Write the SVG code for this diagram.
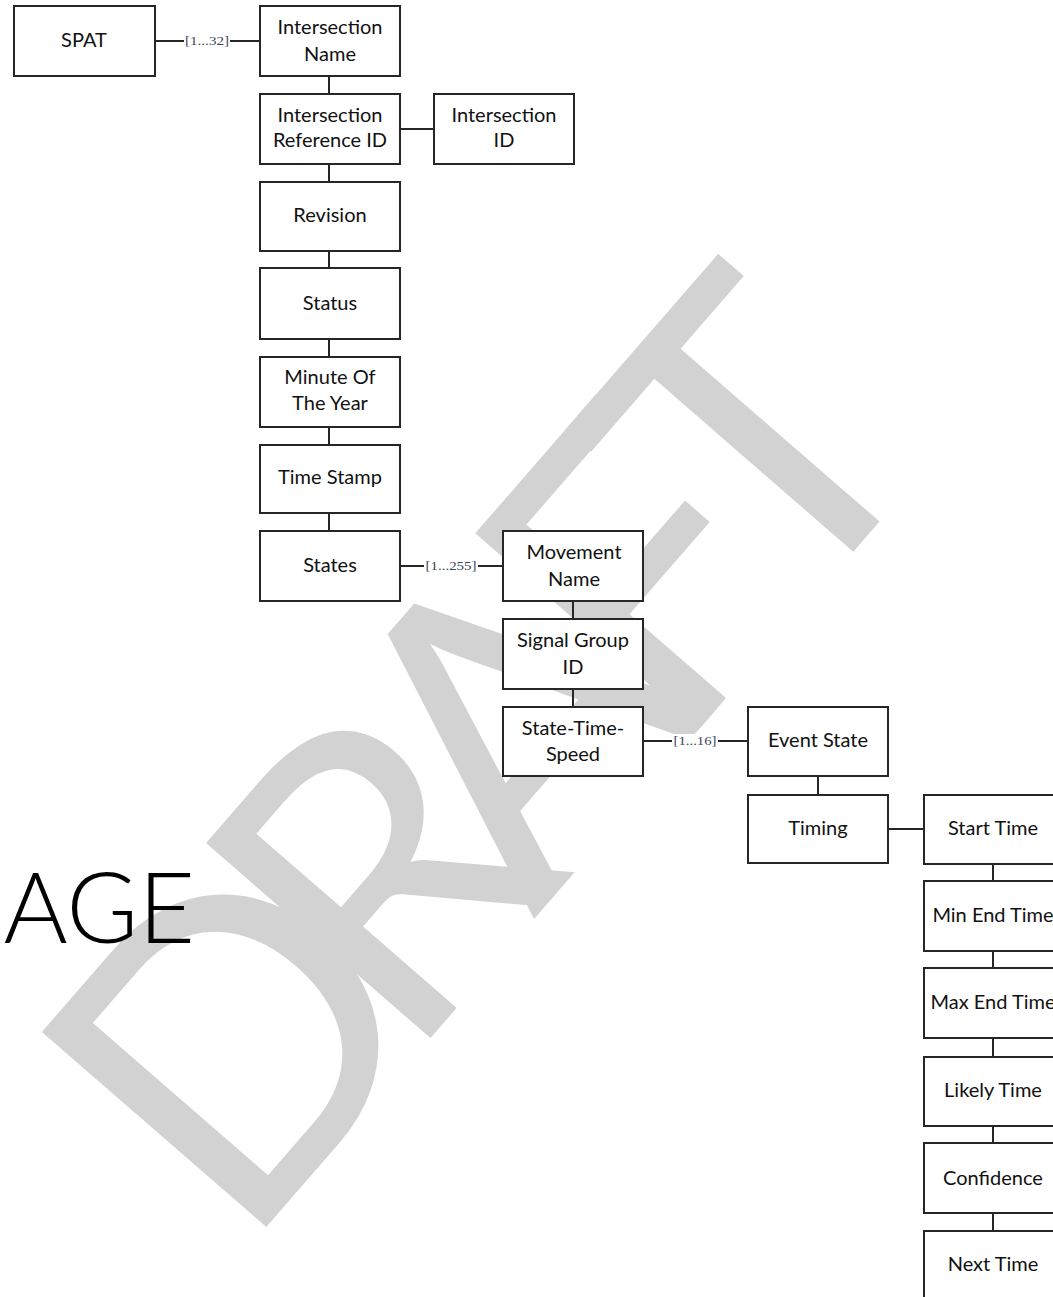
<svg xmlns="http://www.w3.org/2000/svg" width="1053" height="1297" viewBox="0 0 1053 1297">
<style>
.bg{fill:#ffffff}
.wm{font-family:Lato,"Open Sans","DejaVu Sans",sans-serif;font-weight:400;fill:#d2d2d2}
.age{font-family:Lato,"Open Sans","DejaVu Sans",sans-serif;font-weight:300;fill:#000000}
.box{fill:#ffffff;stroke:#262626;stroke-width:2}
.t{font-family:Lato,"Liberation Sans",sans-serif;font-size:20px;fill:#111111;text-anchor:middle}
.c{stroke:#262626;stroke-width:2;fill:none}
.lb{font-family:"Liberation Serif","DejaVu Serif",serif;font-size:12px;fill:#3a4658;text-anchor:middle}
.lbg{fill:#ffffff}
</style>
<rect class="bg" x="0" y="0" width="1053" height="1297"/>
<g id="watermark">
<text class="wm" x="594" y="850" font-size="415" text-anchor="middle" textLength="1075" lengthAdjust="spacing" transform="rotate(-49 594 850)">DRAFT</text>
</g>
<text class="age" x="195" y="943" font-size="98" text-anchor="end">AGE</text>
<g id="connectors">
<line class="c" x1="155" y1="41" x2="184" y2="41"/>
<line class="c" x1="230" y1="41" x2="260" y2="41"/>
<rect class="lbg" x="184" y="34" width="46" height="14"/>
<text class="lb" x="207" y="45" textLength="44" lengthAdjust="spacingAndGlyphs">[1...32]</text>
<line class="c" x1="329" y1="76" x2="329" y2="94"/>
<line class="c" x1="400" y1="129" x2="434" y2="129"/>
<line class="c" x1="329" y1="164" x2="329" y2="182"/>
<line class="c" x1="329" y1="251" x2="329" y2="268"/>
<line class="c" x1="329" y1="339" x2="329" y2="357"/>
<line class="c" x1="329" y1="427" x2="329" y2="445"/>
<line class="c" x1="329" y1="513" x2="329" y2="531"/>
<line class="c" x1="400" y1="566" x2="424" y2="566"/>
<line class="c" x1="478" y1="566" x2="503" y2="566"/>
<rect class="lbg" x="424" y="559" width="54" height="14"/>
<text class="lb" x="451" y="570" textLength="51" lengthAdjust="spacingAndGlyphs">[1...255]</text>
<line class="c" x1="573" y1="601" x2="573" y2="619"/>
<line class="c" x1="573" y1="689" x2="573" y2="707"/>
<line class="c" x1="643" y1="741" x2="672" y2="741"/>
<line class="c" x1="718" y1="741" x2="748" y2="741"/>
<rect class="lbg" x="672" y="734" width="46" height="14"/>
<text class="lb" x="695" y="745" textLength="43" lengthAdjust="spacingAndGlyphs">[1...16]</text>
<line class="c" x1="818" y1="776" x2="818" y2="795"/>
<line class="c" x1="888" y1="829" x2="924" y2="829"/>
<line class="c" x1="993" y1="864" x2="993" y2="881"/>
<line class="c" x1="993" y1="951" x2="993" y2="968"/>
<line class="c" x1="993" y1="1038" x2="993" y2="1057"/>
<line class="c" x1="993" y1="1126" x2="993" y2="1143"/>
<line class="c" x1="993" y1="1213" x2="993" y2="1231"/>
</g>
<g id="spat"><rect class="box" x="14" y="6" width="141" height="70"/><text class="t" x="84" y="47">SPAT</text></g>
<g id="intersection-name"><rect class="box" x="260" y="6" width="140" height="70"/><text class="t" x="330" y="34">Intersection</text><text class="t" x="330" y="61">Name</text></g>
<g id="intersection-reference-id"><rect class="box" x="260" y="94" width="140" height="70"/><text class="t" x="330" y="122">Intersection</text><text class="t" x="330" y="147">Reference ID</text></g>
<g id="intersection-id"><rect class="box" x="434" y="94" width="140" height="70"/><text class="t" x="504" y="122">Intersection</text><text class="t" x="504" y="147">ID</text></g>
<g id="revision"><rect class="box" x="260" y="182" width="140" height="69"/><text class="t" x="330" y="222">Revision</text></g>
<g id="status"><rect class="box" x="260" y="268" width="140" height="71"/><text class="t" x="330" y="310">Status</text></g>
<g id="minute-of-the-year"><rect class="box" x="260" y="357" width="140" height="70"/><text class="t" x="330" y="384">Minute Of</text><text class="t" x="330" y="410">The Year</text></g>
<g id="time-stamp"><rect class="box" x="260" y="445" width="140" height="68"/><text class="t" x="330" y="484">Time Stamp</text></g>
<g id="states"><rect class="box" x="260" y="531" width="140" height="70"/><text class="t" x="330" y="572">States</text></g>
<g id="movement-name"><rect class="box" x="503" y="531" width="140" height="70"/><text class="t" x="574" y="559">Movement</text><text class="t" x="574" y="586">Name</text></g>
<g id="signal-group-id"><rect class="box" x="503" y="619" width="140" height="70"/><text class="t" x="573" y="647">Signal Group</text><text class="t" x="573" y="674">ID</text></g>
<g id="state-time-speed"><rect class="box" x="503" y="707" width="140" height="69"/><text class="t" x="573" y="735">State-Time-</text><text class="t" x="573" y="761">Speed</text></g>
<g id="event-state"><rect class="box" x="748" y="707" width="140" height="69"/><text class="t" x="818" y="747">Event State</text></g>
<g id="timing"><rect class="box" x="748" y="795" width="140" height="68"/><text class="t" x="818" y="835">Timing</text></g>
<g id="start-time"><rect class="box" x="924" y="795" width="140" height="69"/><text class="t" x="993" y="835">Start Time</text></g>
<g id="min-end-time"><rect class="box" x="924" y="881" width="140" height="70"/><text class="t" x="993" y="922">Min End Time</text></g>
<g id="max-end-time"><rect class="box" x="924" y="968" width="140" height="70"/><text class="t" x="993" y="1009">Max End Time</text></g>
<g id="likely-time"><rect class="box" x="924" y="1057" width="140" height="69"/><text class="t" x="993" y="1097">Likely Time</text></g>
<g id="confidence"><rect class="box" x="924" y="1143" width="140" height="70"/><text class="t" x="993" y="1185">Confidence</text></g>
<g id="next-time"><rect class="box" x="924" y="1231" width="140" height="80"/><text class="t" x="993" y="1271">Next Time</text></g>
</svg>
